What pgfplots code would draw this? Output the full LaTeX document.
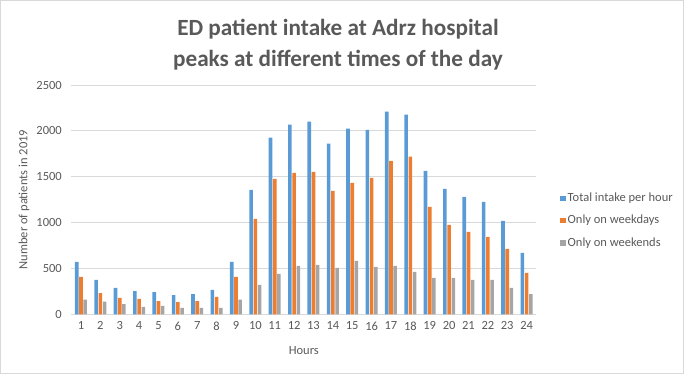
\documentclass[border=0pt]{standalone}
\usepackage{fontspec}
\setmainfont{Carlito}
\usepackage{pgfplots}
\pgfplotsset{compat=1.18}
\definecolor{cblue}{HTML}{5B9BD5}
\definecolor{corange}{HTML}{ED7D31}
\definecolor{cgray}{HTML}{A5A5A5}
\definecolor{txt}{HTML}{595959}
\definecolor{gridc}{HTML}{D9D9D9}
\begin{document}
\begin{tikzpicture}
\useasboundingbox (0,0) rectangle (684bp,374bp);
\draw[gridc, line width=0.8bp] (0.5bp,0.5bp) rectangle (683.5bp,373.5bp);
\begin{axis}[
  at={(71.3bp,59.7bp)}, anchor=south west,
  scale only axis, width=465bp, height=229.3bp,
  xmin=0.5, xmax=24.5, ymin=0, ymax=2500,
  ybar=0.6bp, bar width=3.6bp,
  xtick={1,...,24}, ytick={0,500,...,2500},
  /pgf/number format/assume math mode=true,
  /pgf/number format/1000 sep={},
  ymajorgrids, grid style={gridc, line width=0.8bp},
  axis x line*=bottom, axis y line*=left,
  x axis line style={gridc, line width=0.8bp, -},
  y axis line style={draw=none},
  major tick length=0pt,
  tick label style={font=\fontsize{12.5bp}{14bp}\selectfont, text=txt},
  yticklabel style={xshift=-6bp},
  xticklabel style={yshift=-4bp},
  title={ED patient intake at Adrz hospital\\peaks at different times of the day},
  title style={font=\bfseries\fontsize{23.2bp}{31bp}\selectfont, text=txt, align=center, at={(axis description cs:0.5735,1.150)}, anchor=center},
  xlabel={Hours},
  xlabel style={font=\fontsize{12.5bp}{14bp}\selectfont, text=txt, at={(axis description cs:0.5,-0.156)}, anchor=center},
  ylabel={Number of patients in 2019},
  ylabel style={font=\fontsize{12.5bp}{14bp}\selectfont, text=txt, at={(axis description cs:-0.1017,0.5)}, anchor=center},
  legend style={draw=none, fill=none, font=\fontsize{12.5bp}{14bp}\selectfont, text=txt, at={(axis description cs:1.051,0.538)}, anchor=north west, legend cell align=left, row sep=8bp, inner sep=0pt},
  legend image code/.code={\fill[#1] (0bp,-3bp) rectangle (5.5bp,2.5bp);},
]
\addplot[draw=none, fill=cblue] coordinates {
(1,571) (2,375) (3,287) (4,254) (5,243) (6,210) (7,221) (8,265) (9,571) (10,1357)
(11,1925) (12,2067) (13,2100) (14,1860) (15,2023) (16,2012) (17,2209) (18,2176)
(19,1565) (20,1368) (21,1281) (22,1226) (23,1018) (24,669)};
\addplot[draw=none, fill=corange] coordinates {
(1,407) (2,232) (3,178) (4,167) (5,145) (6,134) (7,145) (8,189) (9,407) (10,1041)
(11,1477) (12,1543) (13,1554) (14,1346) (15,1434) (16,1488) (17,1674) (18,1718)
(19,1172) (20,975) (21,899) (22,844) (23,713) (24,451)};
\addplot[draw=none, fill=cgray] coordinates {
(1,160) (2,138) (3,112) (4,80) (5,91) (6,69) (7,69) (8,69) (9,160) (10,320)
(11,440) (12,527) (13,538) (14,505) (15,582) (16,516) (17,527) (18,462)
(19,396) (20,396) (21,374) (22,374) (23,287) (24,221)};
\legend{Total intake per hour, Only on weekdays, Only on weekends}
\end{axis}
\end{tikzpicture}
\end{document}
